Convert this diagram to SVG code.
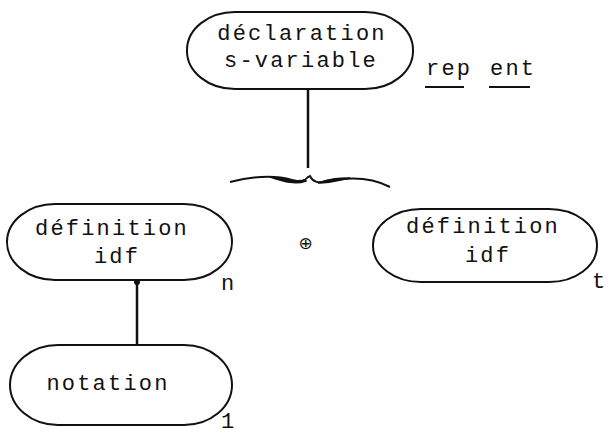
<svg xmlns="http://www.w3.org/2000/svg" width="607" height="435" viewBox="0 0 607 435">
<style>
.node{fill:none;stroke:#111;stroke-width:2}
.t{font-family:"Liberation Mono","Courier New",monospace;font-size:22px;letter-spacing:2.2px;fill:#111;text-anchor:middle}
.lab{font-family:"Liberation Mono","Courier New",monospace;font-size:22px;letter-spacing:2.2px;fill:#111}
.conn{fill:none;stroke:#111;stroke-width:2.5}
</style>
<rect width="607" height="435" fill="#fff"/>
<g id="connectors">
<line class="conn" x1="308" y1="89" x2="308" y2="168"/>
<path d="M230,182 C250,177 272,174 292,180 C300,182 304,182 308,177 L310,176 C313,182 318,184 330,181 C350,177 372,178 390,187" fill="none" stroke="#111" stroke-width="2"/>
<path d="M270,177 C285,178 295,183 305,180 L306,181 C296,185 285,182 270,177 Z M318,183 C330,178 340,178 350,178 C340,180 330,183 318,183 Z" fill="#111" stroke="#111" stroke-width="1.5"/>
<line class="conn" x1="137" y1="281" x2="137" y2="346"/>
<circle cx="137" cy="282" r="3" fill="#111"/>
</g>
<g id="node-declaration">
<rect class="node" x="187" y="12" width="226" height="77" rx="48" ry="38"/>
<text class="t" x="302" y="40">déclaration</text>
<text class="t" x="301" y="67">s-variable</text>
</g>
<g id="label-rep-ent">
<text class="lab" x="426" y="75">rep</text>
<text class="lab" x="490" y="75">ent</text>
<line x1="425" y1="87" x2="464" y2="87" stroke="#111" stroke-width="2"/>
<line x1="489" y1="87" x2="530" y2="87" stroke="#111" stroke-width="2"/>
</g>
<g id="node-definition-left">
<rect class="node" x="7" y="204" width="225" height="76" rx="48" ry="38"/>
<text class="t" x="112" y="235">définition</text>
<text class="t" x="117" y="263">idf</text>
<text class="lab" x="221" y="290">n</text>
</g>
<g id="node-notation">
<rect class="node" x="10" y="345" width="222" height="80" rx="48" ry="40"/>
<text class="t" x="108" y="390">notation</text>
<text class="lab" x="221" y="428">1</text>
</g>
<g id="operator">
<text x="305.5" y="249" font-family="DejaVu Sans, sans-serif" font-size="17" text-anchor="middle" fill="#111">⊕</text>
</g>
<g id="node-definition-right">
<rect class="node" x="373" y="209" width="224" height="73" rx="48" ry="36"/>
<text class="t" x="483" y="233">définition</text>
<text class="t" x="488" y="262">idf</text>
<text class="lab" x="592" y="288">t</text>
</g>
</svg>
